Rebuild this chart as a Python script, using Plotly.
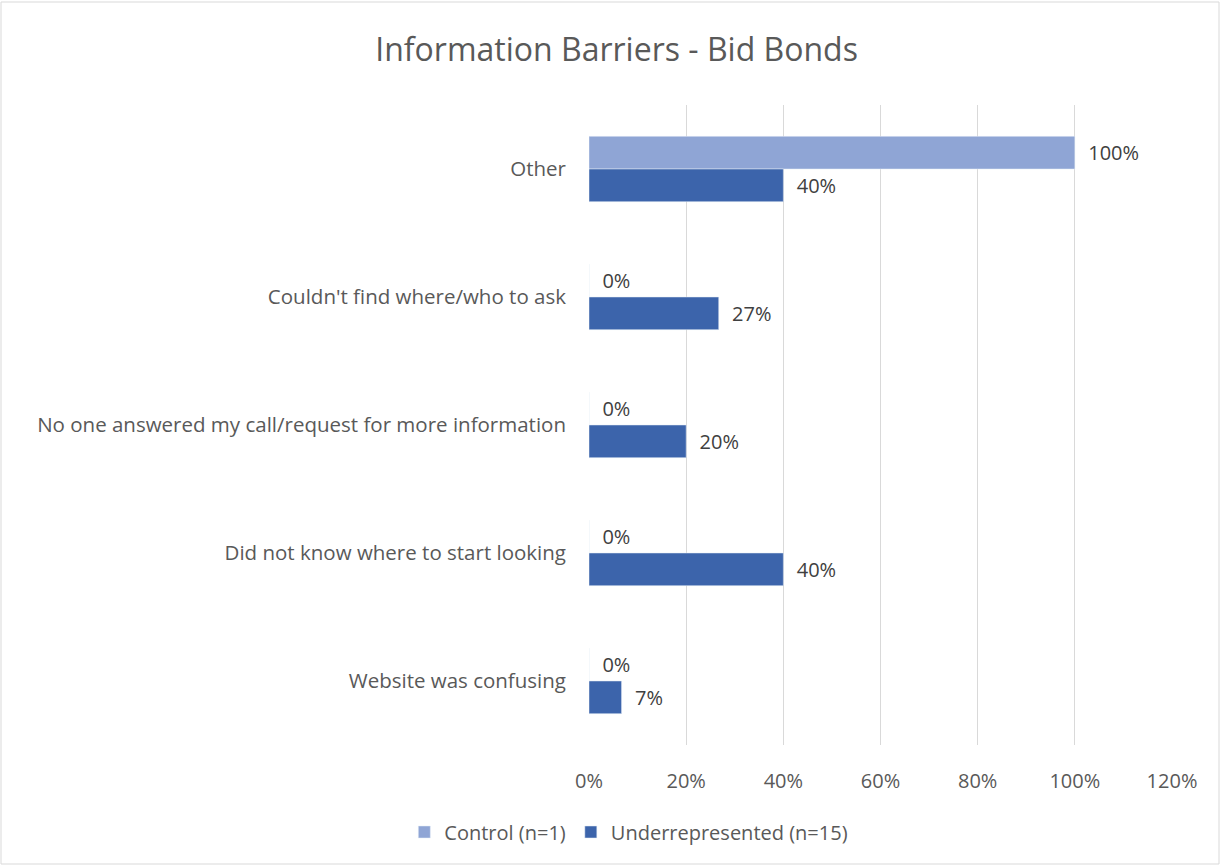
import plotly.graph_objects as go

# Barreras de información - Bid Bonds
categories = ['Other', "Couldn't find where/who to ask",
              'No one answered my call/request for more information',
              'Did not know where to start looking', 'Website was confusing']
control = [1.0, 0.0, 0.0, 0.0, 0.0]
underrep = [0.40, 0.267, 0.20, 0.40, 0.067]

pad = '\u00a0\u00a0'
fig = go.Figure()
fig.add_trace(go.Bar(y=categories, x=control, orientation='h', name='Control (n=1)',
                     marker_color='#8fa5d5', texttemplate=pad + '%{x:.0%}', textposition='outside',
                     textfont=dict(color='#404040', size=20), cliponaxis=False))
fig.add_trace(go.Bar(y=categories, x=underrep, orientation='h', name='Underrepresented (n=15)',
                     marker_color='#3c64ab', texttemplate=pad + '%{x:.0%}', textposition='outside',
                     textfont=dict(color='#404040', size=20), cliponaxis=False))

fig.update_layout(
    width=1221, height=867,
    barmode='group', bargap=0.49, bargroupgap=0,
    plot_bgcolor='white', paper_bgcolor='white',
    font=dict(family='Open Sans', color='#595959', size=20),
    title=dict(text='Information Barriers - Bid Bonds', x=0.505, xref='container', xanchor='center',
               y=1 - 50 / 867, yref='container', yanchor='middle',
               font=dict(size=32, color='#595959')),
    margin=dict(l=589, r=49, t=105, b=122),
    xaxis=dict(range=[0, 1.2], dtick=0.2, tickformat='.0%', showgrid=True, gridcolor='#d9d9d9',
               gridwidth=1, zeroline=False, ticks='', ticklen=0, ticklabelstandoff=22,
               tickfont=dict(size=20)),
    yaxis=dict(autorange='reversed', showgrid=False, ticks='', ticklabelstandoff=22,
               tickfont=dict(size=20.5)),
    legend=dict(orientation='h', xref='container', x=0.515, xanchor='center',
                yref='container', y=1 - 832 / 867, yanchor='middle', font=dict(size=20)),
    shapes=[dict(type='rect', xref='paper', yref='paper',
                 x0=(1 - 589) / 583, x1=(1219 - 589) / 583,
                 y0=(745 - 864) / 640, y1=(745 - 2) / 640,
                 line=dict(color='#d9d9d9', width=1), layer='below')]
)

fig.write_html('out.html', config={'displayModeBar': False},
               post_script="document.body.style.margin='0';")
